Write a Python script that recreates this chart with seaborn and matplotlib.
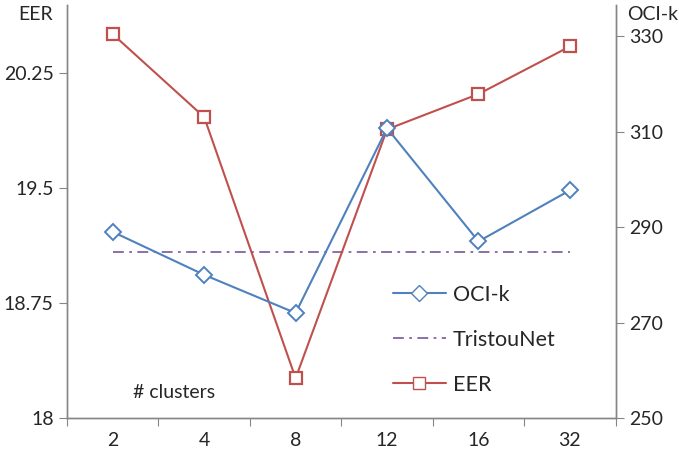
import pandas as pd
import numpy as np
import matplotlib.pyplot as plt
import seaborn as sns
from matplotlib.lines import Line2D

clusters = ["2", "4", "8", "12", "16", "32"]
eer = [20.50, 19.96, 18.26, 19.88, 20.11, 20.42]
oci_k = [289.0, 280.0, 272.0, 310.7, 287.0, 297.7]
tristounet = [19.08] * 6

df = pd.DataFrame({"clusters": clusters, "EER": eer, "OCI-k": oci_k, "TristouNet": tristounet})

sns.set_style("white")
plt.rcParams["font.family"] = ["Lato", "DejaVu Sans"]

blue = "#4F81BD"
red = "#C0504D"
purple = "#8064A2"
grey = "#868686"
dashdot = (0, (6, 3, 1.5, 3))

fig = plt.figure(figsize=(6.79, 4.53), dpi=100)
ax = fig.add_axes([0.0987, 0.077, 0.808, 0.912])
ax2 = ax.twinx()

sns.lineplot(data=df, x="clusters", y="TristouNet", ax=ax, color=purple, lw=1.3,
             linestyle=dashdot, sort=False)
sns.lineplot(data=df, x="clusters", y="EER", ax=ax, color=red, lw=1.5, marker="s",
             markersize=8, markerfacecolor="white", markeredgecolor=red,
             markeredgewidth=1.6, sort=False, zorder=5)
sns.lineplot(data=df, x="clusters", y="OCI-k", ax=ax2, color=blue, lw=1.5, marker="D",
             markersize=8, markerfacecolor="white", markeredgecolor=blue,
             markeredgewidth=1.4, sort=False)

ax.set_ylim(18, 20.69)
ax.set_yticks([18, 18.75, 19.5, 20.25])
ax.set_yticklabels(["18", "18.75", "19.5", "20.25"])
ax2.set_ylim(250, 336.5)
ax2.set_yticks([250, 270, 290, 310, 330])

ax.set_xlim(-0.5, 5.5)
ax.set_xticks(np.arange(-0.5, 6, 1))
ax.set_xticklabels([""] * 7)
ax.set_xticks(np.arange(6), minor=True)
ax.set_xticklabels(clusters, minor=True)
ax.tick_params(axis="x", which="major", length=6, color=grey, direction="out", bottom=True)
ax.tick_params(axis="x", which="minor", length=0, pad=10, labelsize=14)
ax.tick_params(axis="y", length=6, color=grey, direction="out", left=True, labelsize=14)
ax2.tick_params(axis="y", length=6, color=grey, direction="out", right=True, labelsize=14)

ax.set_xlabel("")
ax.set_ylabel("")
ax2.set_ylabel("")
ax.grid(False)
ax2.grid(False)

for a in (ax, ax2):
    a.spines["top"].set_visible(False)
    for s in ("left", "right", "bottom"):
        a.spines[s].set_color(grey)
        a.spines[s].set_linewidth(1.0)

fig.text(0.027, 0.968, "EER", fontsize=14, va="center")
fig.text(0.923, 0.968, "OCI-k", fontsize=14, va="center")
ax.text(0.67, 18.17, "# clusters", fontsize=14, ha="center", va="center")

handles = [
    Line2D([], [], color=blue, lw=1.5, marker="D", markersize=8,
           markerfacecolor="white", markeredgecolor=blue, markeredgewidth=1.0),
    Line2D([], [], color=purple, lw=1.3, linestyle=dashdot),
    Line2D([], [], color=red, lw=1.5, marker="s", markersize=8,
           markerfacecolor="white", markeredgecolor=red, markeredgewidth=1.0),
]
ax2.legend(handles, ["OCI-k", "TristouNet", "EER"], frameon=False, fontsize=15.5,
           loc="upper left", bbox_to_anchor=(0.558, 0.37), handlelength=2.5,
           labelspacing=1.16, handletextpad=0.3)

fig.savefig("out.png", dpi=100)
